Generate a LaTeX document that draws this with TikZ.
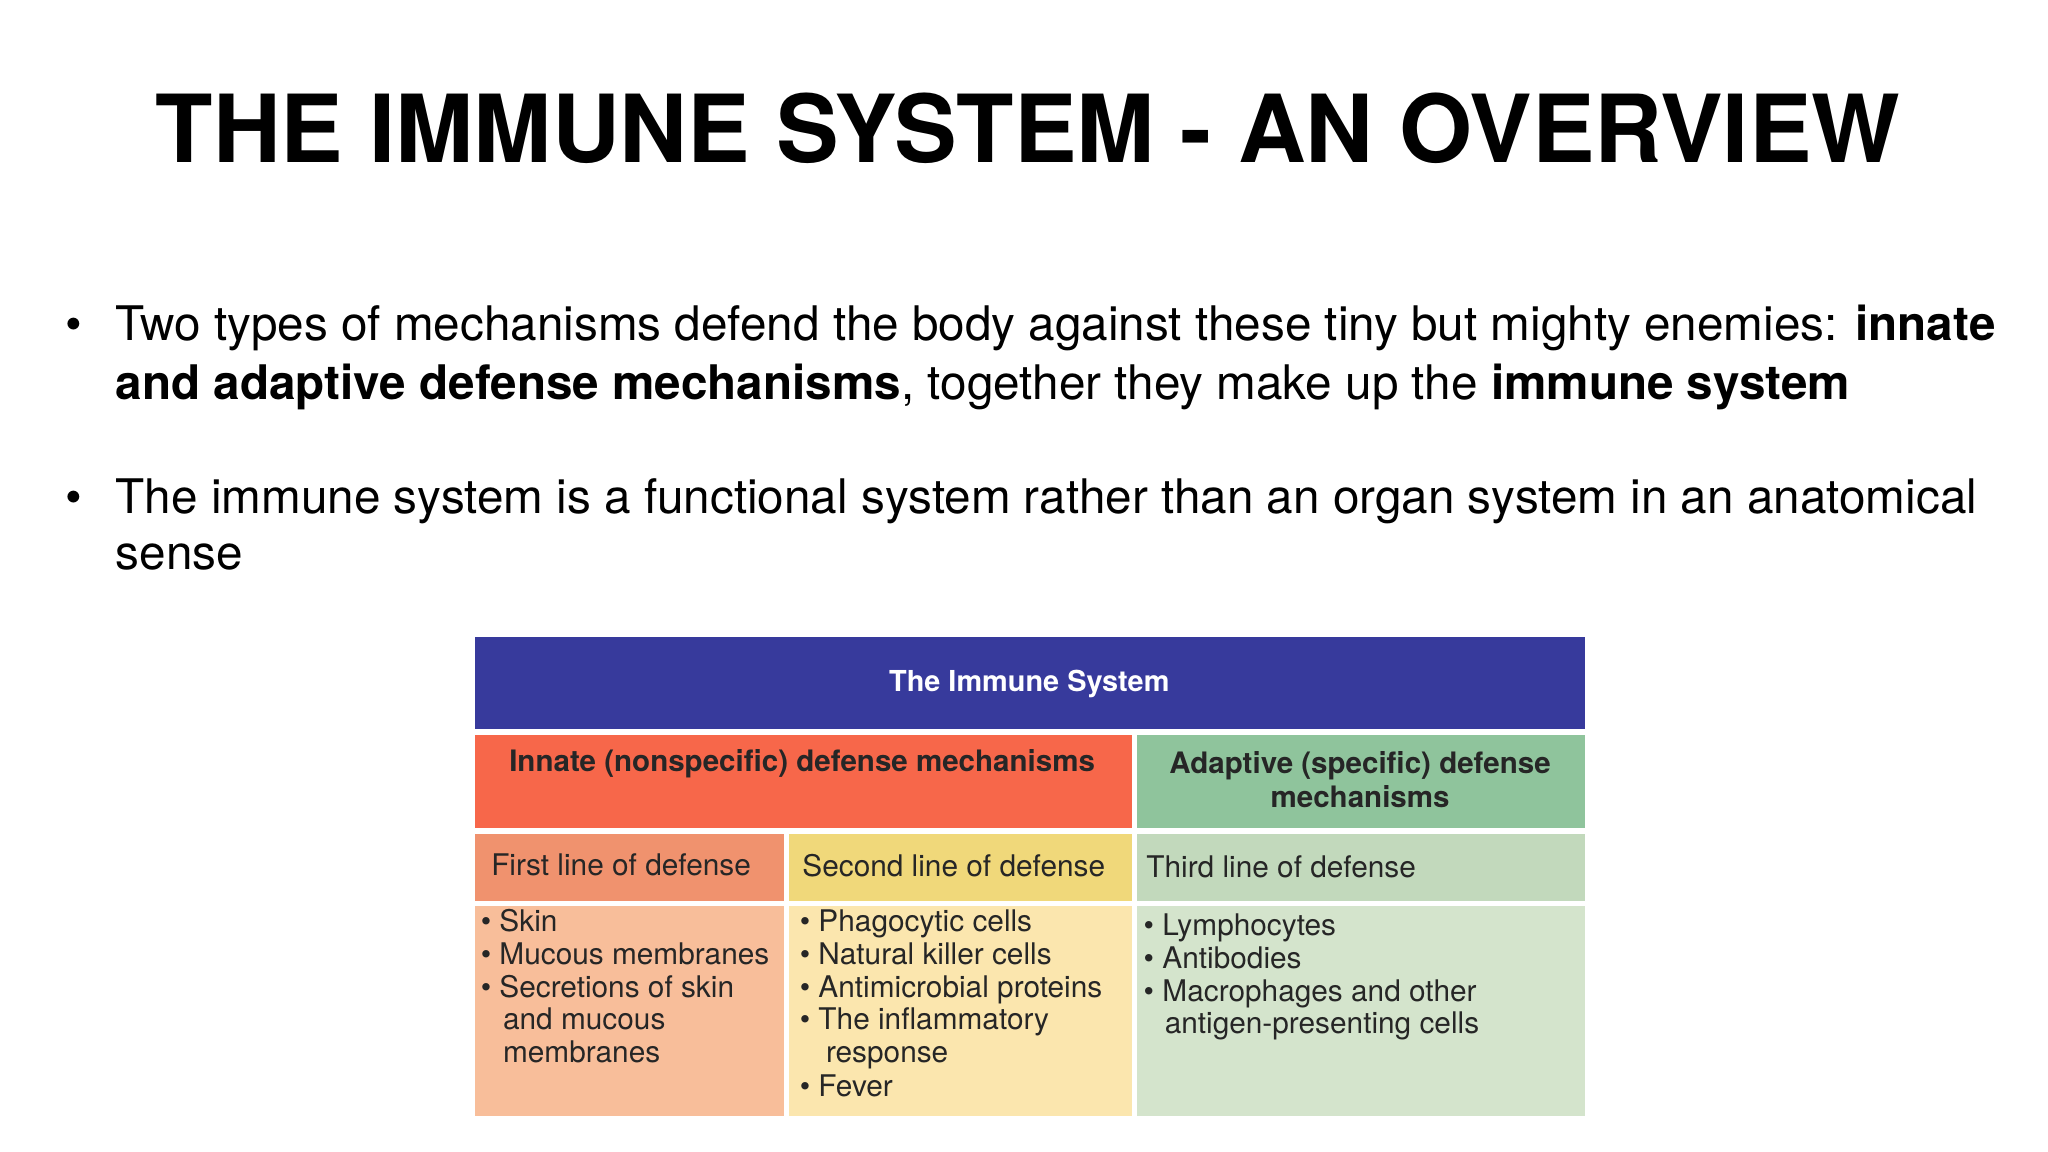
\documentclass[tikz,border=0pt]{standalone}
\usepackage{fontspec}
\setmainfont{TeX Gyre Heros}
\definecolor{cblue}{HTML}{373A9C}
\definecolor{cred}{HTML}{F7674A}
\definecolor{cgreen}{HTML}{8FC49C}
\definecolor{cfirst}{HTML}{F0926E}
\definecolor{csecond}{HTML}{F0D87A}
\definecolor{cthird}{HTML}{C2D9BC}
\definecolor{bfirst}{HTML}{F8BE9A}
\definecolor{bsecond}{HTML}{FBE6AE}
\definecolor{bthird}{HTML}{D4E4CC}
\begin{document}
\begin{tikzpicture}[x=1pt,y=-1pt,
  cell/.style={inner sep=0},
  body/.style={anchor=west,inner sep=0,text height=16pt,text depth=5pt,font=\fontsize{22.7}{25}\selectfont,text=black!85},
  bl/.style={anchor=west,inner sep=0,text height=26pt,text depth=8pt,font=\fontsize{36.3}{40}\selectfont}]
\useasboundingbox[fill=white] (0,0) rectangle (1560,877.5);
\node[inner sep=0,font=\fontsize{71.5}{80}\selectfont\bfseries] (title) at (783,98) {THE IMMUNE SYSTEM - AN OVERVIEW};
\node[bl] (b1) at (50,250) {•};
\node[bl] (t1a) at (88,250) {Two types of mechanisms defend the body against these tiny but mighty enemies: \textbf{innate}};
\node[bl] (t1b) at (88,295) {\textbf{and adaptive defense mechanisms}, together they make up the \textbf{immune system}};
\node[bl] (b2) at (50,382) {•};
\node[bl] (t2a) at (88,382) {The immune system is a functional system rather than an organ system in an anatomical};
\node[bl] (t2b) at (88,425) {sense};
% table
\fill[cblue] (362,485) rectangle (1207,555);
\fill[cred] (362,560) rectangle (862,631);
\fill[cgreen] (866,560) rectangle (1207,631);
\fill[cfirst] (362,635) rectangle (597,686);
\fill[csecond] (601,635) rectangle (862,686);
\fill[cthird] (866,635) rectangle (1207,686);
\fill[bfirst] (362,690) rectangle (597,850);
\fill[bsecond] (601,690) rectangle (862,850);
\fill[bthird] (866,690) rectangle (1207,850);
\node[cell,text=white,font=\fontsize{22}{24}\selectfont\bfseries] (hdr) at (784,521) {The Immune System};
\node[cell,text=black!85,font=\fontsize{22.5}{24}\selectfont\bfseries] (inn) at (611,582) {Innate (nonspecific) defense mechanisms};
\node[cell,text=black!85,align=center,font=\fontsize{22.5}{25.5}\selectfont\bfseries] (ada) at (1036,594) {Adaptive (specific) defense\\mechanisms};
\node[body] (f1) at (374,661) {First line of defense};
\node[body] (f2) at (611,662) {Second line of defense};
\node[body] (f3) at (873,663) {Third line of defense};
% first column
\node[body] (a1) at (366,704) {• Skin};
\node[body] (a2) at (366,729) {• Mucous membranes};
\node[body] (a3) at (366,754) {• Secretions of skin};
\node[body] (a4) at (383,779) {and mucous};
\node[body] (a5) at (383,804) {membranes};
% second
\node[body] (s1) at (609,704) {• Phagocytic cells};
\node[body] (s2) at (609,729) {• Natural killer cells};
\node[body] (s3) at (609,754) {• Antimicrobial proteins};
\node[body] (s4) at (609,779) {• The inflammatory};
\node[body] (s5) at (629,804) {response};
\node[body] (s6) at (609,830) {• Fever};
% third
\node[body] (r1) at (871,707) {• Lymphocytes};
\node[body] (r2) at (871,732) {• Antibodies};
\node[body] (r3) at (871,757) {• Macrophages and other};
\node[body] (r4) at (887,782) {antigen-presenting cells};
\end{tikzpicture}
\end{document}
